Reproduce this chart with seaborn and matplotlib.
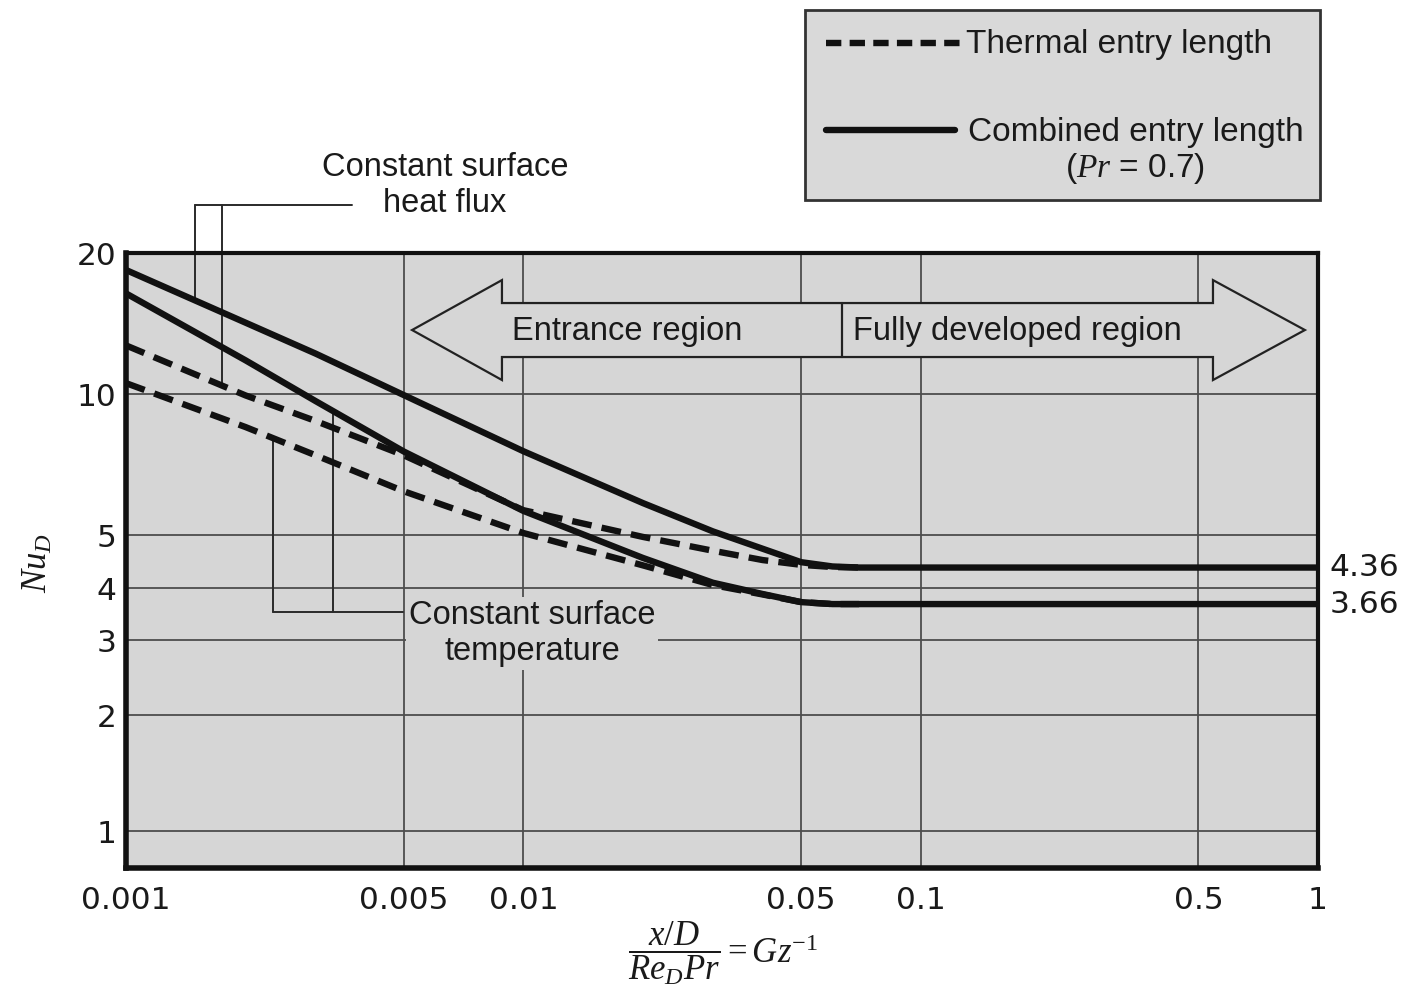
import numpy as np
import pandas as pd
import matplotlib
matplotlib.use("Agg")
import matplotlib.pyplot as plt
import matplotlib.transforms as mtransforms
from matplotlib.patches import Polygon, Rectangle
from matplotlib.lines import Line2D
from matplotlib.ticker import FixedLocator, FixedFormatter, NullLocator
import seaborn as sns

# ---------------- data ----------------
X_COMBINED = [0.001, 0.002, 0.003, 0.005, 0.01, 0.02, 0.03, 0.04, 0.05, 0.06, 0.07, 0.1, 1.0]
NU_COMBINED_FLUX = [18.4, 14.2, 12.2, 9.95, 7.55, 5.85, 5.09, 4.72, 4.46, 4.38, 4.36, 4.36, 4.36]
NU_COMBINED_TEMP = [16.4, 11.8, 9.66, 7.54, 5.63, 4.54, 4.09, 3.87, 3.7, 3.66, 3.66, 3.66, 3.66]

X_THERMAL = [0.001, 0.002, 0.003, 0.005, 0.01, 0.02, 0.03, 0.04, 0.05, 0.06, 0.07]
NU_THERMAL_FLUX = [12.7, 9.93, 8.76, 7.4, 5.65, 4.96, 4.68, 4.5, 4.41, 4.37, 4.36]
NU_THERMAL_TEMP = [10.55, 8.5, 7.4, 6.2, 5.05, 4.4, 4.05, 3.86, 3.7, 3.66, 3.66]

NU_FD_FLUX = 4.36
NU_FD_TEMP = 3.66

X_TICKS = [0.001, 0.005, 0.01, 0.05, 0.1, 0.5, 1.0]
X_TICK_LABELS = ["0.001", "0.005", "0.01", "0.05", "0.1", "0.5", "1"]
Y_TICKS = [1, 2, 3, 4, 5, 10, 20]
Y_TICK_LABELS = ["1", "2", "3", "4", "5", "10", "20"]

# calibration of the printed (slightly non-uniform) logarithmic Nu axis
Y_SCALE_VALUES = [0.8, 1, 2, 3, 4, 5, 10, 20]
Y_SCALE_UNITS = [0, 37, 153, 228, 280, 333, 474, 615]

# ---------------- style ----------------
sns.set_style("white")
plt.rcParams["font.family"] = ["Liberation Sans", "DejaVu Sans"]
plt.rcParams["mathtext.fontset"] = "custom"
plt.rcParams["mathtext.rm"] = "Liberation Serif"
plt.rcParams["mathtext.it"] = "Liberation Serif:italic"
plt.rcParams["mathtext.bf"] = "Liberation Serif:bold"

FACE = "#d6d6d6"
GRID = "#4d4d4d"
INK = "#111111"
TXT = 23.5

_lv = np.log10(np.array(Y_SCALE_VALUES, float))
_pu = np.array(Y_SCALE_UNITS, float)
_slo = (_pu[1] - _pu[0]) / (_lv[1] - _lv[0])
_shi = (_pu[-1] - _pu[-2]) / (_lv[-1] - _lv[-2])


def _fwd(y):
    ly = np.log10(np.clip(np.asarray(y, float), 1e-12, None))
    out = np.interp(ly, _lv, _pu)
    out = np.where(ly < _lv[0], _pu[0] + (ly - _lv[0]) * _slo, out)
    out = np.where(ly > _lv[-1], _pu[-1] + (ly - _lv[-1]) * _shi, out)
    return out


def _inv(p):
    p = np.asarray(p, float)
    ly = np.interp(p, _pu, _lv)
    ly = np.where(p < _pu[0], _lv[0] + (p - _pu[0]) / _slo, ly)
    ly = np.where(p > _pu[-1], _lv[-1] + (p - _pu[-1]) / _shi, ly)
    return 10 ** ly


fig = plt.figure(figsize=(14.04, 9.93), dpi=100)
fig.patch.set_facecolor("white")
ax = fig.add_axes([0.08974, 0.12588, 0.849, 0.6193])
ax.set_facecolor(FACE)

# ---------------- curves ----------------
frames = [
    pd.DataFrame({"gz": X_COMBINED, "nu": NU_COMBINED_FLUX, "curve": "comb_flux", "kind": "Combined entry length"}),
    pd.DataFrame({"gz": X_COMBINED, "nu": NU_COMBINED_TEMP, "curve": "comb_temp", "kind": "Combined entry length"}),
    pd.DataFrame({"gz": X_THERMAL, "nu": NU_THERMAL_FLUX, "curve": "th_flux", "kind": "Thermal entry length"}),
    pd.DataFrame({"gz": X_THERMAL, "nu": NU_THERMAL_TEMP, "curve": "th_temp", "kind": "Thermal entry length"}),
]
df = pd.concat(frames, ignore_index=True)

sns.lineplot(data=df, x="gz", y="nu", units="curve", estimator=None, style="kind",
             dashes={"Thermal entry length": (3.1, 1.6), "Combined entry length": ""},
             color=INK, linewidth=4.6, legend=False, sort=False, ax=ax, zorder=5)
for ln in ax.get_lines():
    ln.set_solid_joinstyle("round")

ax.set_xscale("log")
ax.set_yscale("function", functions=(_fwd, _inv))
ax.set_xlim(0.001, 1.0)
ax.set_ylim(0.8, 20)

ax.xaxis.set_major_locator(FixedLocator(X_TICKS))
ax.xaxis.set_major_formatter(FixedFormatter(X_TICK_LABELS))
ax.xaxis.set_minor_locator(NullLocator())
ax.yaxis.set_major_locator(FixedLocator(Y_TICKS))
ax.yaxis.set_major_formatter(FixedFormatter(Y_TICK_LABELS))
ax.yaxis.set_minor_locator(NullLocator())
ax.grid(True, which="major", color=GRID, linewidth=1.3, zorder=1)
ax.set_axisbelow(True)
ax.tick_params(axis="both", length=0, labelsize=22.5, colors="#1a1a1a")
ax.tick_params(axis="x", pad=13)
ax.tick_params(axis="y", pad=7)
for lab in ax.get_xticklabels() + ax.get_yticklabels():
    lab.set_fontfamily("DejaVu Sans")
ax.set_xlabel("")
ax.set_ylabel("")
for side, sp in ax.spines.items():
    sp.set_visible(True)
    sp.set_color(INK)
    sp.set_linewidth(4.0 if side in ("left", "bottom") else 3.0)
    sp.set_zorder(6)

# ---------------- annotations ----------------
def curve_point(xs, ys, x0):
    ly = np.interp(np.log10(x0), np.log10(xs), np.log10(ys))
    disp = ax.transData.transform((x0, 10 ** ly))
    return ax.transAxes.inverted().transform(disp)

BR = dict(color="#2a2a2a", lw=1.4, transform=ax.transAxes, clip_on=False, zorder=4)

# constant surface heat flux bracket
p1 = curve_point(X_COMBINED, NU_COMBINED_FLUX, 0.00149)
p2 = curve_point(X_THERMAL, NU_THERMAL_FLUX, 0.00174)
yb = 1.078
ax.plot([p1[0], p1[0]], [p1[1], yb], **BR)
ax.plot([p2[0], p2[0]], [p2[1], yb], **BR)
ax.plot([p1[0], 0.1896], [yb, yb], **BR)
ax.text(0.2676, 1.110, "Constant surface\nheat flux", transform=ax.transAxes,
        ha="center", va="center", fontsize=TXT, linespacing=1.2, color="#1a1a1a")

# constant surface temperature bracket
q1 = curve_point(X_THERMAL, NU_THERMAL_TEMP, 0.00234)
q2 = curve_point(X_COMBINED, NU_COMBINED_TEMP, 0.00332)
yt = 0.4163
ax.plot([q1[0], q1[0]], [q1[1], yt], **BR)
ax.plot([q2[0], q2[0]], [q2[1], yt], **BR)
ax.plot([q1[0], 0.2324], [yt, yt], **BR)
ax.text(0.3406, 0.381, "Constant surface\ntemperature", transform=ax.transAxes,
        ha="center", va="center", fontsize=TXT, linespacing=1.2, color="#1a1a1a",
        zorder=4, bbox=dict(facecolor=FACE, edgecolor="none", pad=2))

# entrance / fully developed double arrow
arrow_pts = [(0.240, 0.8748), (0.3154, 0.956), (0.3154, 0.9187), (0.9119, 0.9187),
             (0.9119, 0.956), (0.989, 0.8748), (0.9119, 0.7935), (0.9119, 0.8309),
             (0.3154, 0.8309), (0.3154, 0.7935)]
ax.add_patch(Polygon(arrow_pts, closed=True, transform=ax.transAxes, facecolor=FACE,
                     edgecolor="#222222", lw=1.6, zorder=3, joinstyle="miter"))
ax.plot([0.6007, 0.6007], [0.8309, 0.9187], color="#222222", lw=1.6,
        transform=ax.transAxes, zorder=3)
ax.text(0.4203, 0.8718, "Entrance region", transform=ax.transAxes, ha="center",
        va="center", fontsize=TXT, color="#1a1a1a", zorder=4)
ax.text(0.7475, 0.8718, "Fully developed region", transform=ax.transAxes, ha="center",
        va="center", fontsize=TXT, color="#1a1a1a", zorder=4)

# fully developed values at the right edge
blend = mtransforms.blended_transform_factory(ax.transAxes, ax.transData)
ax.text(1.010, NU_FD_FLUX, f"{NU_FD_FLUX:.2f}", transform=blend, ha="left", va="center",
        fontsize=22.5, fontfamily="DejaVu Sans", color="#1a1a1a")
ax.text(1.010, NU_FD_TEMP, f"{NU_FD_TEMP:.2f}", transform=blend, ha="left", va="center",
        fontsize=22.5, fontfamily="DejaVu Sans", color="#1a1a1a")

# axis titles
fig.text(0.0264, 1 - 563 / 993, r"$Nu_D$", rotation=90, ha="center", va="center",
         fontsize=25, color="#1a1a1a")
fig.text(723 / 1404, 1 - 953 / 993, r"$\dfrac{x/D}{Re_D Pr} = Gz^{-1}$", ha="center",
         va="center", fontsize=25, color="#1a1a1a")

# legend box (drawn in figure coordinates)
fig.patches.append(Rectangle((805 / 1404, 1 - 200 / 993), 515 / 1404, 190 / 993,
                             transform=fig.transFigure, facecolor="#d9d9d9",
                             edgecolor="#333333", lw=2.0, zorder=1))
fig.lines.append(Line2D([826 / 1404, 962 / 1404], [1 - 43 / 993, 1 - 43 / 993],
                        transform=fig.transFigure, color=INK, lw=4.6,
                        linestyle=(0, (2.4, 1.3)), zorder=2))
fig.lines.append(Line2D([826 / 1404, 955 / 1404], [1 - 130 / 993, 1 - 130 / 993],
                        transform=fig.transFigure, color=INK, lw=4.6, zorder=2))
fig.text(966 / 1404, 1 - 45 / 993, "Thermal entry length", ha="left", va="center",
         fontsize=24, color="#1a1a1a", zorder=3)
fig.text(968 / 1404, 1 - 133 / 993, "Combined entry length", ha="left", va="center",
         fontsize=24, color="#1a1a1a", zorder=3)
fig.text(1135 / 1404, 1 - 168 / 993, r"($\mathit{Pr}$ = 0.7)", ha="center", va="center",
         fontsize=24, color="#1a1a1a", zorder=3)

fig.savefig("out.png", dpi=100, facecolor="white")
